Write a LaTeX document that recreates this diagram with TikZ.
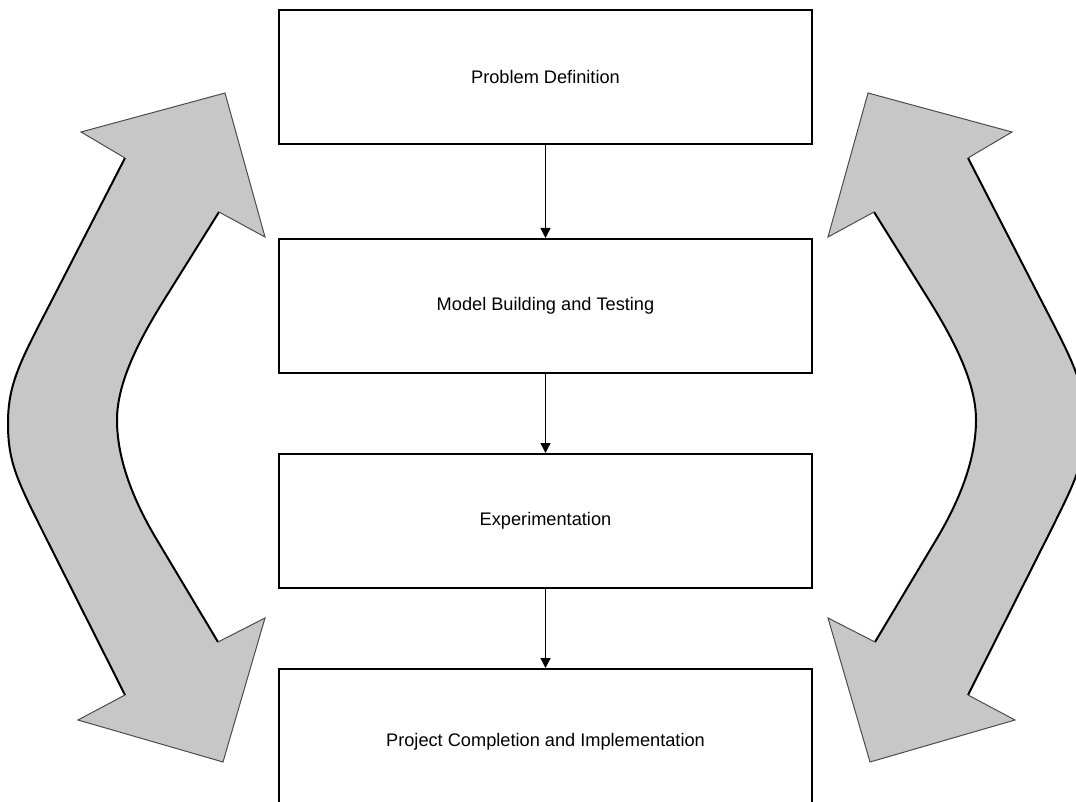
\documentclass[tikz,border=0pt]{standalone}
\usepackage{fontspec}
\setmainfont{Liberation Sans}
\usetikzlibrary{arrows.meta}
\newcommand\bigarrowshape{%
  \fill[arrowfill] (125,158) -- (52,300)
    .. controls (21,360) and (8,383) .. (8,423)
    .. controls (8,463) and (17,480) .. (47,540)
    -- (125,695) -- (78,720) -- (223,762) -- (265,618) -- (218,642)
    -- (157,540)
    .. controls (130,495) and (117,455) .. (117,420)
    .. controls (117,385) and (136,345) .. (164,300)
    -- (219,212) -- (265,237) -- (225,93) -- (81,132) -- cycle;
  \draw[shaftedge] (125,158) -- (52,300)
    .. controls (21,360) and (8,383) .. (8,423)
    .. controls (8,463) and (17,480) .. (47,540) -- (125,695);
  \draw[shaftedge] (218,642) -- (157,540)
    .. controls (130,495) and (117,455) .. (117,420)
    .. controls (117,385) and (136,345) .. (164,300) -- (219,212);
  \draw[headedge] (219,212) -- (265,237) -- (225,93) -- (81,132) -- (125,158);
  \draw[headedge] (125,695) -- (78,720) -- (223,762) -- (265,618) -- (218,642);
}
\begin{document}
\begin{tikzpicture}[x=1pt,y=-1pt,
  arrowfill/.style={fill=black!22},
  shaftedge/.style={draw=black,line width=2pt,line join=round},
  headedge/.style={draw=black!70,line width=1pt,line join=miter},
  stagebox/.style={draw=black,line width=2pt,fill=white,minimum width=533pt,
    inner sep=0pt,font=\fontsize{18.2pt}{22pt}\selectfont},
  conn/.style={draw=black,line width=1.3pt,-{Triangle[length=10pt,width=10pt]}}]
\useasboundingbox (0,0) rectangle (1076,802);
\bigarrowshape
\begin{scope}[xshift=1093pt,xscale=-1]
\bigarrowshape
\end{scope}
\node[stagebox,minimum height=134pt] (b1) at (545.5,77) {Problem Definition};
\node[stagebox,minimum height=134pt] (b2) at (545.5,306) {Model Building and Testing};
\node[stagebox,minimum height=134pt] (b3) at (545.5,521) {Experimentation};
\node[stagebox,minimum height=146pt] (b4) at (545.5,742) {Project Completion and Implementation};
\draw[conn] (b1.south) -- (b2.north);
\draw[conn] (b2.south) -- (b3.north);
\draw[conn] (b3.south) -- (b4.north);
\end{tikzpicture}
\end{document}
